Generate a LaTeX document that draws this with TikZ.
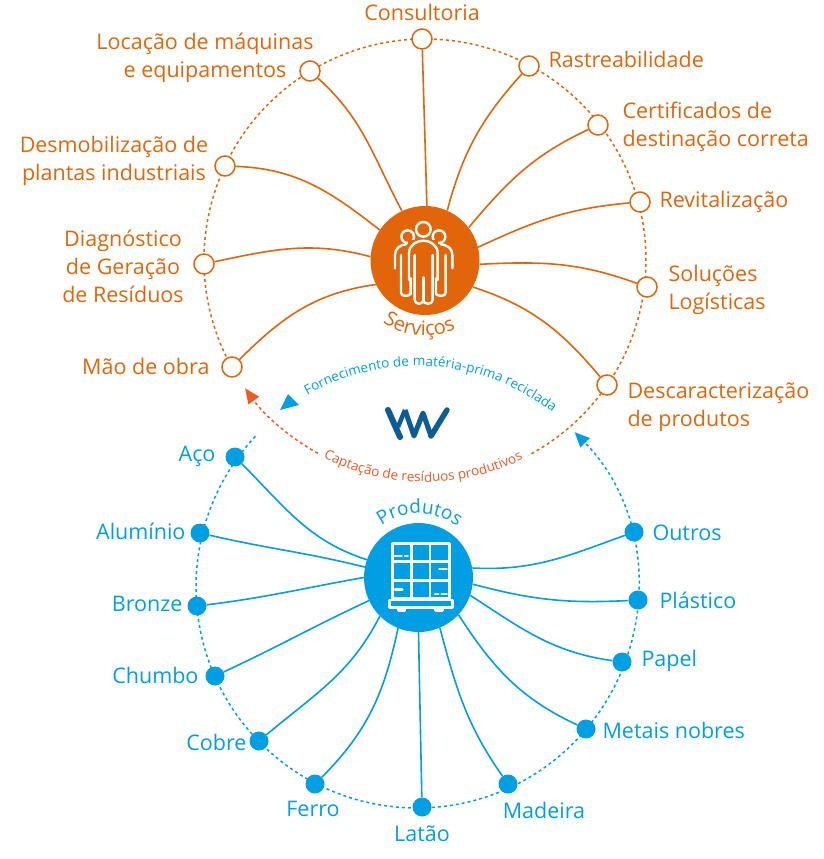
\documentclass[tikz,border=0pt]{standalone}
\usepackage{fontspec}
\setmainfont{Open Sans}
\usetikzlibrary{arrows.meta,decorations.text}
\definecolor{srvorange}{HTML}{E36509}
\definecolor{capred}{HTML}{EE5A24}
\definecolor{prodblue}{HTML}{009FE3}
\definecolor{logoblue}{HTML}{0B5C97}
\tikzset{
  srvdot/.style={circle,draw=srvorange,fill=white,line width=1.5pt,minimum size=20pt,inner sep=0pt},
  proddot/.style={circle,fill=prodblue,minimum size=19pt,inner sep=0pt},
  hubsrv/.style={circle,fill=srvorange,minimum size=109pt,inner sep=0pt},
  hubprod/.style={circle,fill=prodblue,minimum size=109pt,inner sep=0pt},
  srvline/.style={srvorange,line width=1.6pt},
  prodline/.style={prodblue,line width=1.6pt},
  srvlabel/.style={text=srvorange,font=\fontsize{21.5}{28}\selectfont},
  prodlabel/.style={text=prodblue,font=\fontsize{21.5}{28}\selectfont},
  srvring/.style={srvorange,line width=1.5pt,dash pattern=on 3pt off 3pt},
  prodring/.style={prodblue,line width=1.5pt,dash pattern=on 3pt off 3pt},
  iconline/.style={white,line width=2.4pt,line cap=round,line join=round}
}
\begin{document}
\begin{tikzpicture}[x=1pt,y=-1pt]
  \useasboundingbox (0,0) rectangle (824,859);
  \coordinate (srvc) at (425,260);
  \coordinate (prodc) at (417,587);
  % rings
  \draw[srvring] (srvc) ++(151:221) arc (151:394:221);
  \draw[srvring] (srvc) ++(34:221) arc (34:62:221);
  \draw[capred,line width=1.5pt,dash pattern=on 3pt off 3pt,-{Triangle[length=15pt,width=13pt,fill=capred]}] (srvc) ++(119:221) arc (119:144.5:221);
  \draw[prodring,-{Triangle[length=15pt,width=13pt,fill=prodblue]}] (prodc) ++(223:221) arc (223:-44.5:221);
  \fill[prodblue] (280,410) -- (288,394) -- (299,405) -- cycle;
  % ring texts
  \path[postaction={decorate},decoration={text along path,text align=center,
    text={|\fontsize{13.5}{13.5}\selectfont\color{prodblue}|Fornecimento de matéria-prima reciclada}}]
    (prodc) ++(240:221) arc (240:308:221);
  \path[postaction={decorate},decoration={text along path,text align=center,
    text={|\fontsize{13.5}{13.5}\selectfont\color{capred}|Captação de resíduos produtivos}}]
    (srvc) ++(119:222) arc (119:62:222);
  % hubs
  \node[hubsrv] (srvHub) at (425,260.5) {};
  \node[hubprod] (prodHub) at (418.5,577.5) {};
  \path[postaction={decorate},decoration={text along path,text align=center,
    text={|\fontsize{20}{20}\selectfont\color{srvorange}|Serviços}}]
    (srvHub) ++(135:75) arc (135:55:75);
  \path[postaction={decorate},decoration={text along path,text align=center,
    text={|\fontsize{19}{19}\selectfont\color{prodblue}|Produtos}}]
    (prodHub) ++(228:64) arc (228:314:64);
  % service dots
  \node[srvdot] (dotConsult) at (422,39) {};
  \node[srvdot] (dotLocacao) at (310,71) {};
  \node[srvdot] (dotRastreio) at (529,66) {};
  \node[srvdot] (dotCertif) at (598,125) {};
  \node[srvdot] (dotRevital) at (640,202) {};
  \node[srvdot] (dotSolucao) at (647,287) {};
  \node[srvdot] (dotDescar) at (607,385) {};
  \node[srvdot] (dotMao) at (232,367) {};
  \node[srvdot] (dotDiag) at (204,264) {};
  \node[srvdot] (dotDesmob) at (225,166) {};
  % product dots
  \node[proddot] (dotAco) at (235,457) {};
  \node[proddot] (dotAlum) at (200,533) {};
  \node[proddot] (dotBronze) at (197,606) {};
  \node[proddot] (dotChumbo) at (215,676) {};
  \node[proddot] (dotCobre) at (259,741) {};
  \node[proddot] (dotFerro) at (315,784) {};
  \node[proddot] (dotLatao) at (422,807) {};
  \node[proddot] (dotMadeira) at (508,784) {};
  \node[proddot] (dotMetais) at (586,729) {};
  \node[proddot] (dotPapel) at (622,662) {};
  \node[proddot] (dotPlast) at (638,600) {};
  \node[proddot] (dotOutros) at (634,532) {};
  % service lines
  \draw[srvline] (srvHub.88) -- (dotConsult);
  \draw[srvline] (srvHub.115) to[out=118,in=-42] (dotLocacao);
  \draw[srvline] (srvHub.66) to[out=75,in=228] (dotRastreio);
  \draw[srvline] (srvHub.37) to[out=50,in=205] (dotCertif);
  \draw[srvline] (srvHub.14) to[out=25,in=185] (dotRevital);
  \draw[srvline] (srvHub.-4) to[out=3,in=160] (dotSolucao);
  \draw[srvline] (srvHub.-29) to[out=-18,in=130] (dotDescar);
  \draw[srvline] (srvHub.206) to[out=188,in=45] (dotMao);
  \draw[srvline] (srvHub.176) to[out=165,in=12] (dotDiag);
  \draw[srvline] (srvHub.146) to[out=142,in=-2] (dotDesmob);
  % product lines
  \draw[prodline] (prodHub.161) to[out=162,in=-45] (dotAco);
  \draw[prodline] (prodHub.169) to[out=166,in=-13] (dotAlum);
  \draw[prodline] (prodHub.180) to[out=190,in=7] (dotBronze);
  \draw[prodline] (prodHub.205) to[out=205,in=25] (dotChumbo);
  \draw[prodline] (prodHub.225) to[out=243,in=40] (dotCobre);
  \draw[prodline] (prodHub.248) to[out=258,in=45] (dotFerro);
  \draw[prodline] (prodHub.270) -- (dotLatao);
  \draw[prodline] (prodHub.-67) to[out=-75,in=125] (dotMadeira);
  \draw[prodline] (prodHub.-43) to[out=-57,in=155] (dotMetais);
  \draw[prodline] (prodHub.-19) to[out=-33,in=172] (dotPapel);
  \draw[prodline] (prodHub.-7) to[out=-15,in=183] (dotPlast);
  \draw[prodline] (prodHub.10) to[out=-3,in=200] (dotOutros);
  % service labels
  \node[srvlabel] (lblConsult) at (422,12) {Consultoria};
  \node[srvlabel,align=center] (lblLocacao) at (205,58) {Locação de máquinas\\e equipamentos};
  \node[srvlabel,anchor=west] (lblRastreio) at (545,59) {Rastreabilidade};
  \node[srvlabel,anchor=west,align=left] (lblCertif) at (619,127) {Certificados de\\destinação correta};
  \node[srvlabel,anchor=west] (lblRevital) at (656,202) {Revitalização};
  \node[srvlabel,anchor=west,align=left] (lblSolucao) at (665,290) {Soluções\\Logísticas};
  \node[srvlabel,anchor=west,align=left] (lblDescar) at (624,407) {Descaracterização\\de produtos};
  \node[srvlabel,anchor=east] (lblMao) at (213,366) {Mão de obra};
  \node[srvlabel,align=center] (lblDiag) at (123,266) {Diagnóstico\\de Geração\\de Resíduos};
  \node[srvlabel,align=center] (lblDesmob) at (114,161) {Desmobilização de\\plantas industriais};
  % product labels
  \node[prodlabel,anchor=east] (lblAco) at (219,456) {Aço};
  \node[prodlabel,anchor=east] (lblAlum) at (189,531) {Alumínio};
  \node[prodlabel,anchor=east] (lblBronze) at (186,604) {Bronze};
  \node[prodlabel,anchor=east] (lblChumbo) at (202,675) {Chumbo};
  \node[prodlabel,anchor=east] (lblCobre) at (250,742) {Cobre};
  \node[prodlabel] (lblFerro) at (313,809) {Ferro};
  \node[prodlabel] (lblLatao) at (422,834) {Latão};
  \node[prodlabel] (lblMadeira) at (544,810) {Madeira};
  \node[prodlabel,anchor=west] (lblMetais) at (599,730) {Metais nobres};
  \node[prodlabel,anchor=west] (lblPapel) at (638,661) {Papel};
  \node[prodlabel,anchor=west] (lblPlast) at (656,600) {Plástico};
  \node[prodlabel,anchor=west] (lblOutros) at (649,533) {Outros};
  % people icon, crop coordinates
  \begin{scope}[shift={(340,190)},x=0.3333pt,y=-0.3333pt]
    \draw[iconline] (250,118) circle (22);
    \draw[iconline] (203,140) circle (19);
    \draw[iconline] (297,140) circle (19);
    \fill[srvorange] (205,150) rectangle (295,200);
    \draw[iconline] (207,270) -- (207,190) .. controls (207,165) and (230,152) .. (250,152) .. controls (270,152) and (293,165) .. (293,190) -- (293,270);
    \draw[iconline] (224,195) -- (224,330) .. controls (224,345) and (250,345) .. (250,330) .. controls (250,345) and (278,345) .. (278,330) -- (278,195);
    \draw[iconline] (250,330) -- (250,262);
    \draw[iconline] (165,235) -- (165,195) .. controls (165,175) and (180,165) .. (198,163);
    \draw[iconline] (183,195) -- (183,308) .. controls (183,320) and (205,320) .. (212,312) -- (212,265);
    \draw[iconline] (337,235) -- (337,195) .. controls (337,175) and (322,165) .. (303,163);
    \draw[iconline] (317,195) -- (317,308) .. controls (317,320) and (295,320) .. (288,312) -- (288,265);
  \end{scope}
  % pallet icon, crop coordinates
  \begin{scope}[shift={(340,490)},x=0.3333pt,y=-0.3333pt]
    \draw[iconline] (158,160) rectangle (328,325);
    \draw[iconline] (215,160) -- (215,325);
    \draw[iconline] (270,160) -- (270,325);
    \draw[iconline] (158,215) -- (328,215);
    \draw[iconline] (158,272) -- (328,272);
    \draw[iconline] (148,330) rectangle (338,352);
    \draw[iconline] (175,355) -- (175,362) -- (195,362) -- (195,355);
    \draw[iconline] (287,355) -- (287,362) -- (307,362) -- (307,355);
    \draw[iconline] (165,198) -- (185,198);
    \draw[iconline] (195,198) -- (203,198);
    \draw[iconline] (298,237) -- (320,237);
    \draw[iconline] (165,298) -- (187,298);
    \draw[iconline] (285,312) -- (295,312);
    \draw[iconline] (305,312) -- (320,312);
  \end{scope}
  % logo
  \draw[logoblue,line width=6pt,line cap=round] (388,410) -- (400,437);
  \draw[logoblue,line width=4.5pt] (405,410) -- (398,427);
  \draw[logoblue,line width=5pt,line join=round] (405,410) -- (414,436) -- (423,413) -- (431,436);
  \draw[logoblue,line width=5.5pt,line cap=round] (431,436) -- (447,410);
\end{tikzpicture}
\end{document}
